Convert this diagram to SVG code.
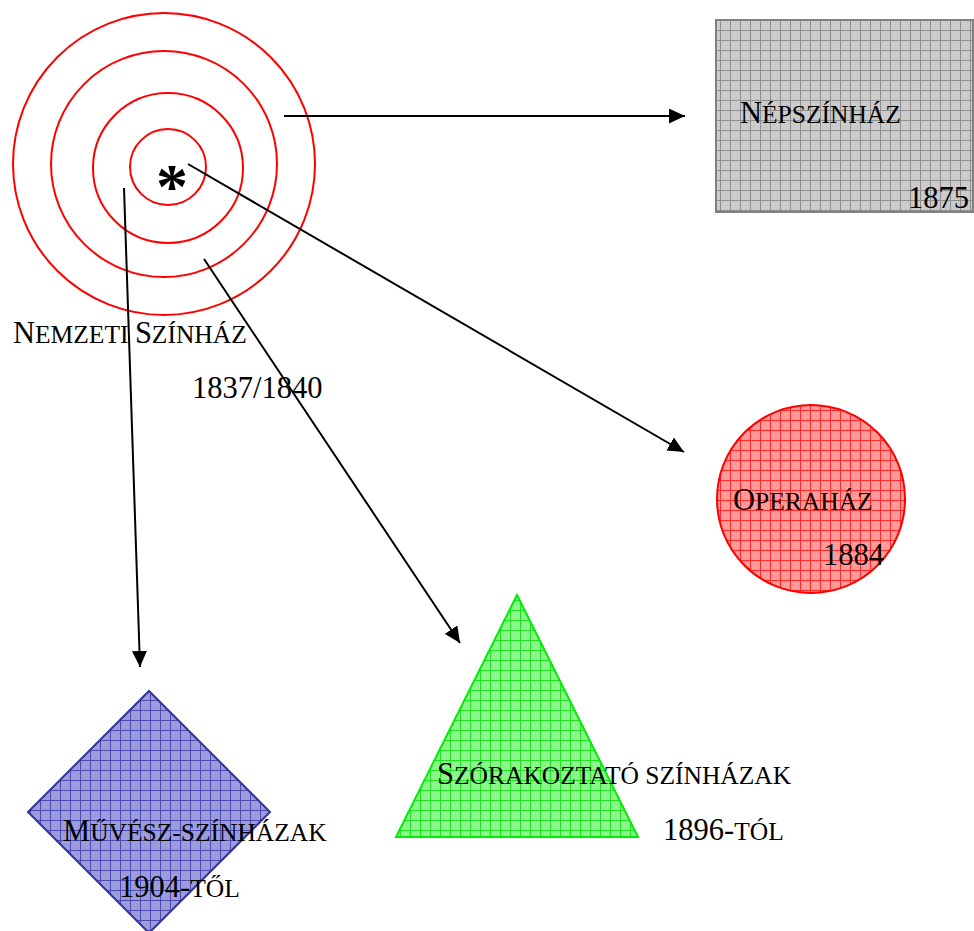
<svg xmlns="http://www.w3.org/2000/svg" width="974" height="931" viewBox="0 0 974 931">
<style>
text{font-family:"Liberation Serif","Times New Roman",serif;fill:#000;font-size:30.5px}
.s{font-size:25.5px}
.ring{fill:none;stroke:#ff0000;stroke-width:2}
.conn{stroke:#000;stroke-width:2;fill:none;marker-end:url(#ah)}
</style>
<defs>
<marker id="ah" markerUnits="userSpaceOnUse" markerWidth="16" markerHeight="15" refX="16" refY="7.5" orient="auto">
<path d="M0,0 L16,7.5 L0,15 z" fill="#000"/>
</marker>
<pattern id="pGray" patternUnits="userSpaceOnUse" width="10" height="10">
<rect width="10" height="10" fill="#cbcbcb"/>
<path d="M0,0.5 H10 M0.5,0 V10" stroke="#8e8e8e" stroke-width="1"/>
</pattern>
<pattern id="pRed" patternUnits="userSpaceOnUse" width="10" height="10">
<rect width="10" height="10" fill="#ff9a9a"/>
<path d="M0,0.5 H10 M0.5,0 V10" stroke="#ff2a2a" stroke-width="1"/>
</pattern>
<pattern id="pGreen" patternUnits="userSpaceOnUse" width="10" height="10">
<rect width="10" height="10" fill="#8cf58c"/>
<path d="M0,0.5 H10 M0.5,0 V10" stroke="#22e022" stroke-width="1"/>
</pattern>
<pattern id="pBlue" patternUnits="userSpaceOnUse" width="10" height="10">
<rect width="10" height="10" fill="#9c9cdc"/>
<path d="M0,0.5 H10 M0.5,0 V10" stroke="#4a4ab0" stroke-width="1"/>
</pattern>
</defs>

<g id="nemzeti">
<circle class="ring" cx="164" cy="164" r="151"/>
<circle class="ring" cx="164" cy="164" r="113"/>
<circle class="ring" cx="168" cy="168" r="75"/>
<circle class="ring" cx="168" cy="167" r="38"/>
<text x="156" y="208" style="font-size:64px;font-weight:bold">*</text>
<text x="13" y="343">N<tspan class="s">EMZETI </tspan>S<tspan class="s">ZÍNHÁZ</tspan></text>
<text x="192" y="398">1837/1840</text>
</g>

<g id="nepszinhaz">
<rect x="716" y="20" width="257" height="192" fill="url(#pGray)" stroke="#808080" stroke-width="2"/>
<text x="740" y="123">N<tspan class="s">ÉPSZÍNHÁZ</tspan></text>
<text x="908" y="208">1875</text>
</g>

<g id="operahaz">
<circle cx="811" cy="499" r="94" fill="url(#pRed)" stroke="#ff0000" stroke-width="2"/>
<text x="733" y="510">O<tspan class="s">PERAHÁZ</tspan></text>
<text x="823" y="565">1884</text>
</g>

<g id="szorakoztato">
<polygon points="517,595 638,837 396,837" fill="url(#pGreen)" stroke="#00ee00" stroke-width="2"/>
<text x="437" y="784">S<tspan class="s">ZÓRAKOZTATÓ SZÍNHÁZAK</tspan></text>
<text x="663" y="840">1896-<tspan class="s">TÓL</tspan></text>
</g>

<g id="muvesz">
<polygon points="149,691 270,812 149,933 28,812" fill="url(#pBlue)" stroke="#333399" stroke-width="2"/>
<text x="63" y="841">M<tspan class="s">ŰVÉSZ-SZÍNHÁZAK</tspan></text>
<text x="119" y="897">1904-<tspan class="s">TŐL</tspan></text>
</g>

<g id="connectors">
<line class="conn" x1="284" y1="116" x2="685" y2="116"/>
<line class="conn" x1="188" y1="164" x2="684" y2="452"/>
<line class="conn" x1="124" y1="188" x2="140" y2="667"/>
<line class="conn" x1="204" y1="259" x2="460" y2="643"/>
</g>
</svg>
